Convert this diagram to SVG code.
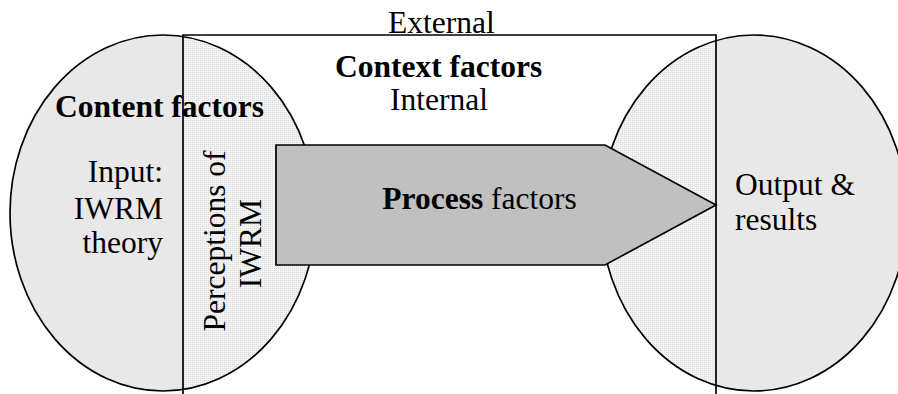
<svg xmlns="http://www.w3.org/2000/svg" width="898" height="394" viewBox="0 0 898 394">
  <style>
    text { font-family: "Liberation Serif", "Times New Roman", serif; font-size: 31.5px; fill: #000; }
    .b { font-weight: bold; }
    .outline { fill: none; stroke: #000; stroke-width: 1.7; }
    .outer { fill: #e8e8e8; }
    .inner { fill: url(#dots); }
  </style>
  <defs>
    <pattern id="dots" width="2" height="2" patternUnits="userSpaceOnUse">
      <rect width="2" height="2" fill="#f4f4f4"/>
      <rect width="1" height="1" fill="#dadada"/>
    </pattern>
    <clipPath id="inRect">
      <rect x="183" y="35" width="533" height="359"/>
    </clipPath>
  </defs>

  <rect width="898" height="394" fill="#fff"/>

  <g id="context-background">
    <rect x="183" y="35" width="533" height="359" fill="#fff"/>
  </g>

  <g id="content-factors">
    <ellipse class="outer" cx="163" cy="213" rx="153" ry="178"/>
    <ellipse class="inner" cx="163" cy="213" rx="153" ry="178" clip-path="url(#inRect)"/>
    <ellipse class="outline" cx="163" cy="213" rx="153" ry="178"/>
  </g>

  <g id="output-results">
    <ellipse class="outer" cx="754" cy="213" rx="153" ry="178"/>
    <ellipse class="inner" cx="754" cy="213" rx="153" ry="178" clip-path="url(#inRect)"/>
    <ellipse class="outline" cx="754" cy="213" rx="153" ry="178"/>
  </g>

  <g id="context-factors">
    <path class="outline" d="M183,395 V35 H716 V395"/>
    <text x="388" y="33">External</text>
    <text class="b" x="335" y="77">Context factors</text>
    <text x="390" y="110">Internal</text>
  </g>

  <g id="process-factors">
    <polygon points="276,145 605,145 716,205 605,265 276,265" fill="#c0c0c0" stroke="#000" stroke-width="1.7" stroke-linejoin="miter"/>
    <text x="479.5" y="209" text-anchor="middle"><tspan class="b">Process</tspan> factors</text>
  </g>

  <g id="content-labels">
    <text class="b" x="55" y="117">Content factors</text>
    <text x="163" y="182" text-anchor="end">Input:</text>
    <text x="163" y="219" text-anchor="end">IWRM</text>
    <text x="163" y="253" text-anchor="end">theory</text>
  </g>

  <g id="perceptions">
    <text transform="translate(225,241) rotate(-90)" text-anchor="middle">Perceptions of</text>
    <text transform="translate(261,243.5) rotate(-90)" text-anchor="middle">IWRM</text>
  </g>

  <g id="output-labels">
    <text x="735" y="195">Output &amp;</text>
    <text x="735" y="230">results</text>
  </g>
</svg>
